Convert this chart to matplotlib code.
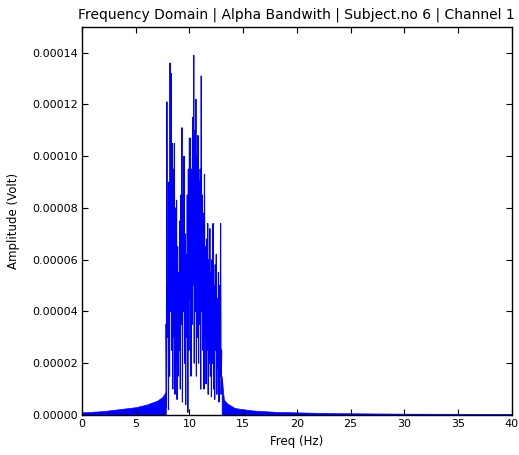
import matplotlib
matplotlib.use("Agg")
import matplotlib.pyplot as plt
import numpy as np
from matplotlib.ticker import FormatStrFormatter

# Alpha band: peaks (x1e-5 Volt) at step 0.1 Hz, troughs in between
peak_freq = [7.8, 7.9, 8.0, 8.1, 8.2, 8.3, 8.4, 8.5, 8.6, 8.7, 8.8, 8.9, 9.0, 9.1, 9.2,
             9.3, 9.4, 9.5, 9.6, 9.7, 9.8, 9.9, 10.0, 10.1, 10.2, 10.3, 10.4, 10.5, 10.6,
             10.7, 10.8, 10.9, 11.0, 11.1, 11.2, 11.3, 11.4, 11.5, 11.6, 11.7, 11.8, 11.9,
             12.0, 12.1, 12.2, 12.3, 12.4, 12.5, 12.6, 12.7, 12.8, 12.9, 13.0]
peak_amp = [3.5, 12.1, 5.0, 9.0, 13.6, 13.2, 10.5, 9.5, 10.5, 8.0, 8.3, 6.5, 5.5, 7.5, 8.5,
            11.1, 8.5, 10.0, 7.0, 6.2, 8.5, 9.5, 10.7, 10.7, 9.5, 11.5, 13.9, 11.0, 12.2,
            10.0, 10.8, 9.0, 9.5, 13.1, 8.5, 7.8, 9.3, 6.5, 6.8, 7.4, 6.0, 7.2,
            5.5, 6.0, 7.4, 5.0, 5.8, 6.2, 4.5, 5.5, 5.0, 7.4, 2.5]
trough_freq = [7.85, 7.95, 8.05, 8.15, 8.25, 8.35, 8.45, 8.55, 8.65, 8.75, 8.85, 8.95, 9.05,
               9.15, 9.25, 9.35, 9.45, 9.55, 9.65, 9.75, 9.85, 9.95, 10.05, 10.15, 10.25,
               10.35, 10.45, 10.55, 10.65, 10.75, 10.85, 10.95, 11.05, 11.15, 11.25, 11.35,
               11.45, 11.55, 11.65, 11.75, 11.85, 11.95, 12.05, 12.15, 12.25, 12.35, 12.45,
               12.55, 12.65, 12.75, 12.85, 12.95]
trough_amp = [0.3, 3.0, 0.2, 1.5, 4.0, 2.5, 1.0, 3.0, 0.8, 2.0, 0.6, 1.5, 2.5,
              1.0, 3.5, 0.5, 4.0, 2.0, 0.4, 3.0, 0.1, 2.5, 4.5, 1.5, 3.5,
              5.0, 2.0, 4.0, 1.5, 3.0, 2.0, 3.5, 1.0, 4.0, 2.5, 1.0,
              3.0, 1.2, 2.5, 0.8, 2.0, 1.5, 0.7, 2.0, 1.0, 0.6, 2.5,
              0.8, 1.8, 0.5, 1.5, 0.8]

# Side lobes outside the band: envelope (x1e-5 Volt)
low_freq = [0, 2, 4, 5, 6, 7, 7.5, 7.8]
low_env = [0.1, 0.15, 0.25, 0.3, 0.4, 0.55, 0.7, 0.9]
high_freq = [13.0, 13.2, 13.5, 14.2, 15, 16, 18, 20, 23.5, 30, 35, 40]
high_env = [1.5, 0.6, 0.45, 0.27, 0.22, 0.17, 0.12, 0.1, 0.07, 0.05, 0.045, 0.04]

x_ticks = [0, 5, 10, 15, 20, 25, 30, 35, 40]
y_ticks = [0.0, 0.00002, 0.00004, 0.00006, 0.00008, 0.00010, 0.00012, 0.00014]

scale = 1e-5
band_f = []
band_a = []
for i in range(len(peak_freq)):
    band_f.append(peak_freq[i]); band_a.append(peak_amp[i] * scale)
    if i < len(trough_freq):
        band_f.append(trough_freq[i]); band_a.append(trough_amp[i] * scale)

fig = plt.figure(figsize=(5.19, 4.55), dpi=100, facecolor='white')
ax = fig.add_axes([0.158, 0.088, 0.828, 0.853])

ax.fill_between(low_freq, 0, np.array(low_env) * scale, color='#0000ff', linewidth=0.5)
ax.fill_between(high_freq, 0, np.array(high_env) * scale, color='#0000ff', linewidth=0.5)
ax.plot(band_f, band_a, color='#0000ff', linewidth=0.8)

ax.set_xlim(0, 40)
ax.set_ylim(0, 0.00015)
ax.set_xticks(x_ticks)
ax.set_yticks(y_ticks)
ax.yaxis.set_major_formatter(FormatStrFormatter('%.5f'))
ax.tick_params(direction='in', top=True, right=True, length=4, labelsize=8, pad=3)
for s in ax.spines.values():
    s.set_linewidth(1.0)

ax.set_title('Frequency Domain | Alpha Bandwith | Subject.no 6 | Channel 1', fontsize=10, pad=6)
ax.set_xlabel('Freq (Hz)', fontsize=8.5, labelpad=4)
ax.set_ylabel('Amplitude (Volt)', fontsize=8.5)
ax.yaxis.set_label_coords(-0.145, 0.5)

fig.savefig('out.png', dpi=100, facecolor='white')
